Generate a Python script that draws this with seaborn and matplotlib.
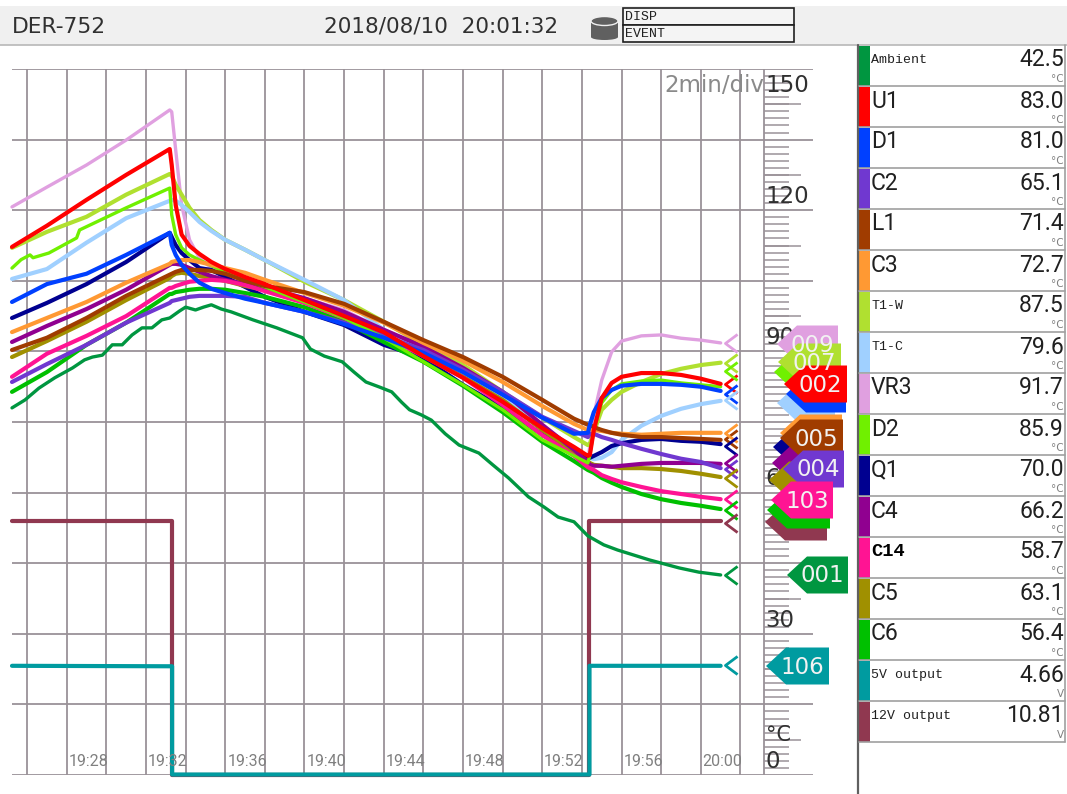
"""Recorder trend screen DER-752: temperature channels against time, with the readout panel."""

import numpy as np
import pandas as pd
import matplotlib
matplotlib.use("Agg")
import matplotlib.pyplot as plt
import seaborn as sns
from matplotlib.patches import Ellipse, Polygon, Rectangle
from matplotlib.path import Path

# minutes after 19:00, shared by the temperature channels
minutes = [23.24, 25, 27, 29, 31.2, 31.3, 31.5, 31.8, 32.2, 32.7, 33.3, 34, 35, 36, 38, 40, 42,
           44, 46, 48, 50, 51.6, 52.3, 52.4, 52.6, 53, 53.5, 54, 55, 56, 57, 58, 59]

vr3 = [120.7, 124.9, 129.6, 134.9, 141.3, 140.9, 132.8, 121.1, 113.7, 109.8, 107.7, 106.7, 105.4, 104.1, 101.3, 98.8, 94.5,
       89.9, 85.0, 79.7, 73.7, 69.0, 66.5, 70.1, 76.5, 83.9, 89.9, 92.2, 93.3, 93.5, 92.8, 92.4, 91.8]
u1 = [112.2, 116.7, 122.2, 127.5, 133.0, 129.6, 121.1, 114.8, 112.4, 110.7, 109.0, 107.5, 105.8, 104.3, 100.9, 97.5, 94.1,
      89.0, 84.4, 79.3, 73.7, 69.7, 67.8, 68.0, 73.3, 80.1, 83.3, 84.6, 85.4, 85.4, 85.0, 84.2, 83.1]
t1_w = [112.0, 115.4, 118.6, 123.3, 127.7, 127.3, 125.4, 123.3, 120.5, 117.9, 115.8, 113.7, 111.6, 109.4, 104.8, 100.9, 96.3,
        91.4, 87.1, 81.4, 75.9, 71.8, 70.1, 70.3, 72.9, 77.6, 79.7, 81.4, 83.5, 85.2, 86.3, 87.1, 87.6]
t1_c = [105.4, 107.5, 113.1, 118.3, 122.0, 122.2, 122.0, 121.1, 119.6, 117.5, 115.6, 113.7, 111.6, 109.4, 105.2, 100.9, 94.6,
        90.3, 85.6, 80.7, 73.9, 69.5, 67.4, 67.4, 67.1, 67.4, 68.6, 71.2, 74.2, 76.3, 77.8, 78.8, 79.5]
d1 = [100.5, 104.3, 106.5, 110.5, 115.2, 112.6, 110.5, 108.4, 106.5, 104.6, 103.3, 102.4, 101.2, 100.3, 98.4, 95.8, 92.9,
      89.7, 85.6, 80.8, 75.9, 72.5, 72.7, 74.4, 77.1, 80.1, 81.8, 82.7, 83.1, 83.1, 82.9, 82.5, 81.6]
q1 = [97.1, 100.3, 104.3, 109.0, 115.2, 114.3, 112.6, 110.9, 109.4, 107.7, 107.3, 105.8, 103.7, 101.6, 98.4, 95.6, 91.4,
      88.6, 82.9, 78.0, 72.3, 69.1, 67.4, 67.4, 67.8, 68.6, 69.9, 70.5, 71.2, 71.4, 71.0, 70.8, 70.3]
c3 = [94.1, 97.1, 100.5, 104.6, 108.6, 109.0, 109.2, 109.4, 109.4, 109.0, 108.4, 107.7, 106.7, 105.2, 102.4, 99.7, 96.1,
      91.8, 88.0, 83.5, 78.4, 74.6, 73.3, 73.5, 73.3, 73.1, 72.7, 72.5, 72.3, 72.5, 72.7, 72.7, 72.7]
l1 = [90.3, 92.9, 97.1, 101.8, 106.3, 106.5, 106.9, 107.3, 107.3, 107.3, 107.1, 106.5, 105.0, 103.9, 102.6, 100.1, 96.3,
      92.4, 88.8, 84.6, 79.7, 75.7, 74.4, 74.4, 73.9, 73.3, 72.7, 72.3, 71.8, 71.8, 71.6, 71.4, 71.2]
c4 = [92.0, 95.4, 99.0, 103.1, 108.4, 108.6, 108.6, 108.4, 107.7, 106.9, 106.0, 105.2, 104.3, 103.5, 101.3, 98.4, 94.6,
      91.0, 86.5, 81.4, 74.4, 69.1, 66.5, 65.9, 65.7, 65.7, 65.5, 65.7, 66.1, 66.3, 66.3, 66.3, 66.1]
c5 = [88.8, 92.2, 96.3, 100.9, 105.6, 106.0, 106.5, 106.7, 106.5, 106.0, 105.6, 105.0, 103.9, 103.1, 100.9, 98.0, 93.7,
      89.3, 84.6, 79.7, 73.3, 68.6, 66.5, 66.3, 65.9, 65.7, 65.5, 65.2, 65.2, 65.0, 64.6, 64.0, 63.3]
c14 = [84.6, 89.5, 93.3, 97.5, 103.5, 103.5, 103.9, 104.3, 104.8, 105.0, 105.2, 105.0, 104.1, 102.8, 100.3, 97.1, 93.3,
       89.0, 84.4, 78.6, 72.2, 67.8, 65.4, 65.2, 64.8, 63.7, 62.9, 62.2, 61.2, 60.3, 59.7, 59.1, 58.6]
c6 = [81.4, 85.6, 91.4, 96.1, 102.2, 102.2, 102.6, 102.8, 103.1, 103.3, 103.3, 103.1, 102.4, 101.6, 99.4, 96.3, 92.0,
      87.8, 82.7, 77.1, 70.8, 66.7, 64.8, 64.6, 64.2, 63.1, 62.1, 61.2, 59.7, 58.6, 57.8, 57.2, 56.5]
c2 = [83.5, 87.3, 91.4, 96.1, 100.3, 100.7, 100.9, 101.2, 101.6, 101.8, 101.8, 101.8, 101.6, 100.3, 98.4, 96.1, 93.3,
      90.3, 86.1, 81.4, 76.1, 73.1, 71.8, 72.5, 72.5, 71.8, 71.2, 70.5, 69.3, 68.2, 67.2, 66.5, 65.2]

# D2 has its early step, so it keeps its own times
d2_minutes = [23.24, 23.7, 24.15, 24.3, 25.1, 26.5, 26.65, 27, 29, 31.2, 31.3, 31.5, 31.8, 32.2, 32.7, 33.3, 34, 35, 36,
              38, 40, 42, 44, 46, 48, 50, 51.6, 52.3, 52.4, 52.6, 53, 53.5, 54, 55, 56, 57, 58, 59]
d2 = [107.7, 109.5, 110.5, 109.9, 110.9, 114.1, 115.8, 116.5, 120.5, 124.7, 119.0, 114.8, 112.0, 110.5, 109.4, 108.2, 106.9,
      105.2, 103.7, 100.5, 97.1, 92.9, 87.8, 82.9, 77.6, 71.2, 67.8, 66.3, 68.0, 73.3, 79.1, 81.8, 83.1, 83.7, 83.9, 83.3,
      82.9, 82.5]

ambient_minutes = [23.24, 23.9, 24.6, 25.4, 26.3, 26.9, 27.3, 27.8, 28.3, 28.8, 29.3, 29.8, 30.3, 30.8, 31.2, 31.7, 32.0,
                   32.5, 32.9, 33.3, 33.8, 34.3, 35.4, 36.6, 37.9, 38.3, 39.0, 39.9, 40.5, 41.1, 41.8, 42.4, 42.9, 43.3,
                   43.9, 44.4, 45.1, 45.8, 46.8, 47.5, 48.3, 49.3, 50.1, 50.8, 51.6, 52.3, 53.1, 53.8, 55.4, 56.9, 57.9, 59.0]
ambient = [78.0, 79.7, 82.2, 84.4, 86.5, 88.2, 88.8, 89.2, 91.4, 91.4, 93.5, 95.0, 95.0, 96.7, 97.1, 98.6, 99.4,
           98.8, 99.4, 99.9, 99.0, 98.4, 96.7, 95.0, 92.9, 90.5, 89.0, 87.8, 85.6, 83.5, 82.4, 81.4, 79.2, 77.6,
           76.5, 75.4, 72.5, 70.1, 68.4, 65.9, 63.1, 59.1, 56.9, 54.8, 53.8, 50.8, 48.9, 47.8, 45.7, 44.0, 43.1, 42.5]

step_minutes = [23.24, 31.32, 31.32, 52.38, 52.38, 59]
output_5v = [23.2, 23.1, 0.1, 0.1, 23.2, 23.2]
output_12v = [54.0, 54.0, 0.1, 0.1, 54.0, 54.0]

# readout panel, in screen order
channels = ["Ambient", "U1", "D1", "C2", "L1", "C3", "T1-W", "T1-C", "VR3", "D2", "Q1", "C4", "C14", "C5", "C6",
            "5V output", "12V output"]
readouts = ["42.5", "83.0", "81.0", "65.1", "71.4", "72.7", "87.5", "79.6", "91.7", "85.9", "70.0", "66.2", "58.7",
            "63.1", "56.4", "4.66", "10.81"]
units = ["°C"] * 15 + ["V", "V"]
colors = ["#009640", "#FF0000", "#0040FF", "#7038D0", "#A03C00", "#FF9933", "#B0E030", "#A0D0FF", "#E0A0E0",
          "#70F000", "#000090", "#900090", "#FF1493", "#A09000", "#00C000", "#009BA0", "#903850"]
marker_values = [42.5, 83.0, 81.0, 65.1, 71.4, 72.7, 87.5, 79.6, 91.7, 85.9, 70.0, 66.2, 58.7, 63.1, 56.4, 23.4, 53.5]
palette = dict(zip(channels, colors))

# tags at the right of the scale, bottom one first: channel, tag text, tip x, centre y, right edge
tags = [
    ("VR3", "009", 777, 344, 838), ("D2", "", 774, 372, 830), ("T1-W", "007", 778, 362, 841),
    ("T1-C", "", 777, 403, 835), ("D1", "", 786, 394, 846), ("U1", "002", 784, 384, 847),
    ("Q1", "", 773, 447, 835), ("C4", "", 772, 463, 835), ("C5", "", 769, 480, 830),
    ("C3", "", 780, 433, 842), ("L1", "005", 780, 438, 843), ("C2", "004", 783, 469, 844),
    ("12V output", "", 765, 522, 827), ("C6", "", 767, 510, 830), ("C14", "103", 771, 500, 833),
    ("Ambient", "001", 787, 575, 848), ("5V output", "106", 766, 666, 829),
]

draw_order = ["12V output", "5V output", "VR3", "T1-W", "T1-C", "Q1", "C6", "C5", "C4", "C14", "C2", "D2", "C3", "L1",
              "D1", "U1", "Ambient"]

W, H = 1067, 794
GRID = "#9A9298"
SANS = "DejaVu Sans"
MONO = "Liberation Mono"
READOUT = "Roboto"


def build_frame() -> pd.DataFrame:
    """Long table of all channels for seaborn."""
    temps = {"VR3": vr3, "U1": u1, "T1-W": t1_w, "T1-C": t1_c, "D1": d1, "Q1": q1, "C3": c3, "L1": l1,
             "C4": c4, "C5": c5, "C14": c14, "C6": c6, "C2": c2}
    frames = [pd.DataFrame({"minute": minutes, "value": v, "channel": k}) for k, v in temps.items()]
    frames.append(pd.DataFrame({"minute": d2_minutes, "value": d2, "channel": "D2"}))
    frames.append(pd.DataFrame({"minute": ambient_minutes, "value": ambient, "channel": "Ambient"}))
    frames.append(pd.DataFrame({"minute": step_minutes, "value": output_5v, "channel": "5V output"}))
    frames.append(pd.DataFrame({"minute": step_minutes, "value": output_12v, "channel": "12V output"}))
    return pd.concat(frames, ignore_index=True)


def draw_trend(ax, df) -> None:
    """Grid, value scale, channel lines and end markers."""
    ax.set_xlim(23.24, 63.66)
    ax.set_ylim(0, 150)
    ax.set_xticks(np.arange(24, 61, 2))
    ax.set_yticks(np.arange(0, 151, 15))
    ax.grid(True, color=GRID, lw=1.3)
    ax.tick_params(length=0, labelbottom=False, labelleft=False)
    ax.set(xlabel="", ylabel="")
    ax.set_axisbelow(True)
    sns.despine(ax=ax, left=True, bottom=True)

    # value scale
    ax.vlines(61.18, 0, 150, color=GRID, lw=1.3, clip_on=False)
    fine = [v for v in np.arange(0, 150, 1.5) if abs(v % 15) > 0.01]
    ax.hlines(fine, 61.18, 62.45, color=GRID, lw=1.1)
    ax.hlines(np.arange(7.5, 150, 15), 61.18, 63.05, color=GRID, lw=1.1)

    sns.lineplot(data=df, x="minute", y="value", hue="channel", hue_order=draw_order, palette=palette,
                 estimator=None, sort=False, legend=False, lw=3.0, ax=ax, solid_joinstyle="round")
    for line, name in zip(ax.get_lines()[-len(draw_order):], draw_order):
        line.set_clip_on(False)
        if name in ("VR3", "Ambient", "D2"):
            line.set_linewidth(2.4)

    chevron = Path([(0.67, 1), (-0.67, 0), (0.67, -1)])
    for name, value in zip(channels, marker_values):
        ax.plot([59.5], [value], marker=chevron, ms=13, mew=2.0, mfc="none", mec=palette[name], ls="none")

    for minute, label in zip([28, 32, 36, 40, 44, 48, 52, 56, 60],
                             ["19:28", "19:32", "19:36", "19:40", "19:44", "19:48", "19:52", "19:56", "20:00"]):
        ax.text(minute + 0.1, 2.8, label, ha="right", va="center", color="#808080", family=READOUT, fontsize=11.5)

    ax.text(61.2, 146.4, "2min/div", ha="right", va="center", color="#8A8A8A", family=SANS, fontsize=16.5)
    for value in [120, 90, 60, 30, 0]:
        ax.text(61.25, value + 2.9, str(value), ha="left", va="center", color="#303030", family=SANS, fontsize=16.5)
    ax.text(61.25, 146.4, "150", ha="left", va="center", color="#303030", family=SANS, fontsize=16.5)
    ax.text(61.3, 8.4, "°C", ha="left", va="center", color="#303030", family=SANS, fontsize=15)


def draw_header(ui) -> None:
    ui.add_patch(Rectangle((0, 6), W, 39, fc="#F0F0F0", ec="none"))
    ui.plot([0, W], [45, 45], color="#B8B8B8", lw=1.2)
    ui.text(12, 27, "DER-752", va="center", family=SANS, fontsize=15.7, color="#303030")
    ui.text(324, 27, "2018/08/10  20:01:32", va="center", family=SANS, fontsize=15.5, color="#303030")
    # storage icon
    ui.add_patch(Rectangle((591, 21), 27, 16, fc="#606060", ec="none"))
    ui.add_patch(Ellipse((604.5, 37), 27, 6, fc="#606060", ec="none"))
    ui.add_patch(Ellipse((604.5, 21), 27, 9, fc="#606060", ec="#F0F0F0", lw=1))
    for top, label in zip([8, 25], ["DISP", "EVENT"]):
        ui.add_patch(Rectangle((623, top), 171, 17, fc="#F4F4F4", ec="#202020", lw=1.2))
        ui.text(625, top + 9, label, va="center", family=MONO, fontsize=9.5, color="#202020")


def draw_panel(ui) -> None:
    row_h = 41
    top = 45
    ui.plot([858, 858], [top, H], color="#606060", lw=1.6)
    ui.plot([1065, 1065], [top, top + row_h * len(channels)], color="#A0A0A0", lw=1.2)
    for i, name in enumerate(channels):
        y = top + i * row_h
        ui.add_patch(Rectangle((859, y + 1), 11, row_h - 1, fc=palette[name], ec="none"))
        ui.plot([859, 1065], [y + row_h, y + row_h], color="#A0A0A0", lw=1.2)
        if name == "C14":
            ui.text(871, y + 15, name, va="center", family=MONO, fontsize=13.5, weight="bold", color="black")
        elif len(name) > 3:
            ui.text(871, y + 15, name, va="center", family=MONO, fontsize=9.5, color="#202020")
        else:
            ui.text(871, y + 15, name, va="center", family=READOUT, fontsize=16.5, color="#202020")
        ui.text(1064, y + 15, readouts[i], ha="right", va="center", family=READOUT, fontsize=16.5, color="#202020")
        ui.text(1064, y + 34, units[i], ha="right", va="center", family=SANS, fontsize=7.5, color="#808080")


def draw_tags(ui) -> None:
    half = 18.5
    for name, label, tip, cy, right in tags:
        shoulder = tip + 20
        pts = [(tip, cy), (shoulder, cy - half), (right, cy - half), (right, cy + half), (shoulder, cy + half)]
        ui.add_patch(Polygon(pts, closed=True, fc=palette[name], ec="none"))
        if label:
            ui.text((shoulder + right) / 2 - 5, cy + 1, label, ha="center", va="center", family=SANS, fontsize=16.5,
                    color="#F2F2F2")


def main() -> None:
    sns.set_theme(style="white")
    fig = plt.figure(figsize=(W / 100, H / 100), dpi=100, facecolor="white")
    ax = fig.add_axes([12 / W, 1 - 775 / H, (813 - 12) / W, (775 - 69) / H])
    ax.patch.set_alpha(0)
    draw_trend(ax, build_frame())

    # screen furniture in pixel coordinates
    ui = fig.add_axes([0, 0, 1, 1])
    ui.set_xlim(0, W)
    ui.set_ylim(H, 0)
    ui.axis("off")
    ui.patch.set_alpha(0)
    draw_header(ui)
    draw_panel(ui)
    draw_tags(ui)

    fig.savefig("out.png", dpi=100)
    plt.close(fig)


if __name__ == "__main__":
    main()
